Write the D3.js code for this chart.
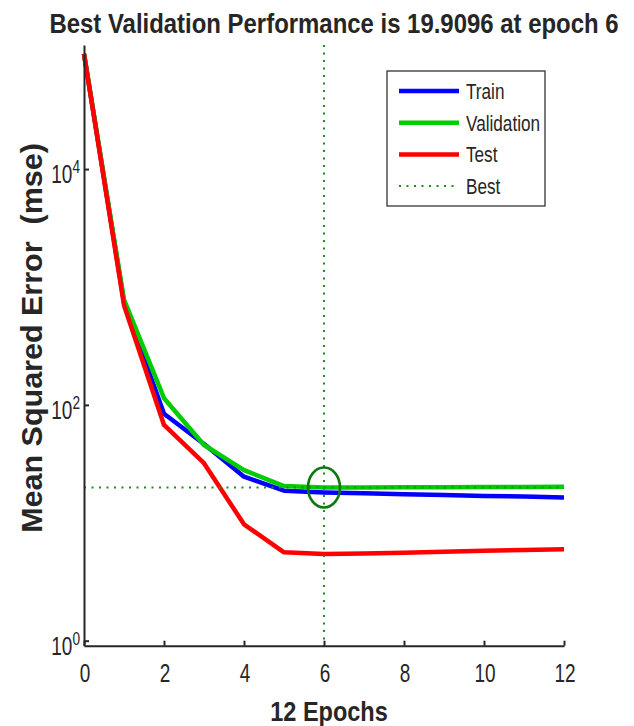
<!DOCTYPE html>
<html>
<head>
<meta charset="utf-8">
<script src="https://cdn.jsdelivr.net/npm/d3@7"></script>
<style>
  body { margin: 0; background: #fff; }
  svg { display: block; }
  text { font-family: "Liberation Sans", Arial, sans-serif; fill: #262626; }
</style>
</head>
<body>
<svg width="634" height="726"></svg>
<script>
// epochs and performance (mse)
const epochs = [0, 1, 2, 3, 4, 5, 6, 7, 8, 9, 10, 11, 12];
const trainPerf = [95000, 740, 84, 46.6, 24.6, 18.7, 18.1, 17.8, 17.5, 17.2, 16.9, 16.7, 16.4];
const valPerf = [95000, 780, 114, 45.7, 28, 20.5, 19.9096, 19.96, 20.0, 20.05, 20.1, 20.15, 20.2];
const testPerf = [95000, 700, 67.6, 32, 9.7, 5.62, 5.44, 5.5, 5.58, 5.68, 5.78, 5.88, 5.96];
const bestEpoch = 6;
const bestPerf = 19.9096;
const xTicks = [0, 2, 4, 6, 8, 10, 12];
const yTicks = [1, 100, 10000];
const yTickExp = ["0", "2", "4"];
const legendNames = ["Train", "Validation", "Test", "Best"];

const svg = d3.select("svg");
const sx = 0.76; // glyphs in the picture are squeezed sideways

const x = d3.scaleLinear().domain([0, 12]).range([84, 564]);
const y = d3.scaleLog().domain([0.907, 112800]).range([645.7, 45]);

// squeezed text helper
function label(g, txt, px, py, opts) {
    let t = g.append("text")
        .attr("transform", `translate(${px},${py}) scale(${opts.sx || sx},1)` + (opts.rot ? ` rotate(${opts.rot})` : ""))
        .attr("text-anchor", opts.anchor || "middle")
        .style("font-size", opts.size + "px")
        .style("font-weight", opts.bold ? "bold" : "normal")
        .style("white-space", "pre")
        .text(txt);
    return t;
}

// data lines
const line = d3.line().x((d, i) => x(epochs[i])).y(d => y(d));
const series = [
    {vals: trainPerf, color: "#0000ff"},
    {vals: valPerf, color: "#00cc00"},
    {vals: testPerf, color: "#ff0000"}
];
svg.selectAll(".perf")
    .data(series)
    .enter()
    .append("path")
    .attr("class", "perf")
    .attr("d", d => line(d.vals))
    .attr("fill", "none")
    .attr("stroke", d => d.color)
    .attr("stroke-width", 4.5)
    .attr("stroke-linejoin", "round");

// best lines
const bestColor = "#1e8c1e";
svg.append("line")
    .attr("x1", x(bestEpoch)).attr("x2", x(bestEpoch))
    .attr("y1", y.range()[1]).attr("y2", y.range()[0])
    .attr("stroke", bestColor).attr("stroke-width", 2)
    .attr("stroke-dasharray", "2,5.5");
svg.append("line")
    .attr("x1", x(0)).attr("x2", x(12))
    .attr("y1", y(bestPerf)).attr("y2", y(bestPerf))
    .attr("stroke", bestColor).attr("stroke-width", 2)
    .attr("stroke-dasharray", "2,5.5");
svg.append("ellipse")
    .attr("cx", x(bestEpoch)).attr("cy", y(bestPerf))
    .attr("rx", 16).attr("ry", 20)
    .attr("fill", "none")
    .attr("stroke", "#0b790b")
    .attr("stroke-width", 2.6);

// axes
const xAxis = svg.append("g")
    .attr("transform", `translate(0,${y.range()[0]})`)
    .call(d3.axisBottom(x).tickValues(xTicks).tickSize(-5).tickSizeOuter(0).tickFormat(""));
const yAxis = svg.append("g")
    .attr("transform", `translate(${x.range()[0]},0)`)
    .call(d3.axisLeft(y).tickValues(yTicks).tickSize(-5).tickSizeOuter(0).tickFormat(""));
[xAxis, yAxis].forEach(a => {
    a.select(".domain").attr("stroke", "#262626").attr("stroke-width", 2);
    a.selectAll(".tick line").attr("stroke", "#262626").attr("stroke-width", 2);
});
svg.selectAll(".tick text").remove();

xTicks.forEach(v => {
    label(svg, String(v), x(v) + 1, 682, {size: 25});
});
yTicks.forEach((v, i) => {
    let t = label(svg, "", 80, y(v) + 14, {size: 25, anchor: "end"});
    t.append("tspan").text("10");
    t.append("tspan").attr("dy", -10).style("font-size", "18px").text(yTickExp[i]);
});

// titles
label(svg, "Best Validation Performance is 19.9096 at epoch 6", 334, 33, {size: 28, bold: true, sx: 0.855});
label(svg, "12 Epochs", 329, 721, {size: 27, bold: true, sx: 0.87});
label(svg, "Mean Squared Error  (mse)", 42, 338, {size: 30.5, bold: true, rot: -90, sx: 0.98});

// legend
const lg = svg.append("g");
lg.append("rect")
    .attr("x", 387).attr("y", 71).attr("width", 158).attr("height", 135)
    .attr("fill", "#fff").attr("stroke", "#333").attr("stroke-width", 1.3);
const legendColors = ["#0000ff", "#00cc00", "#ff0000", bestColor];
legendNames.forEach((n, i) => {
    let ly = 91 + i * 31.7;
    let l = lg.append("line")
        .attr("x1", 399).attr("x2", 459)
        .attr("y1", ly).attr("y2", ly)
        .attr("stroke", legendColors[i]);
    if (i < 3) l.attr("stroke-width", 4.5);
    else l.attr("stroke-width", 2).attr("stroke-dasharray", "2,5.5");
    label(lg, n, 466, ly + 8, {size: 22, anchor: "start", sx: 0.78});
});
</script>
</body>
</html>
